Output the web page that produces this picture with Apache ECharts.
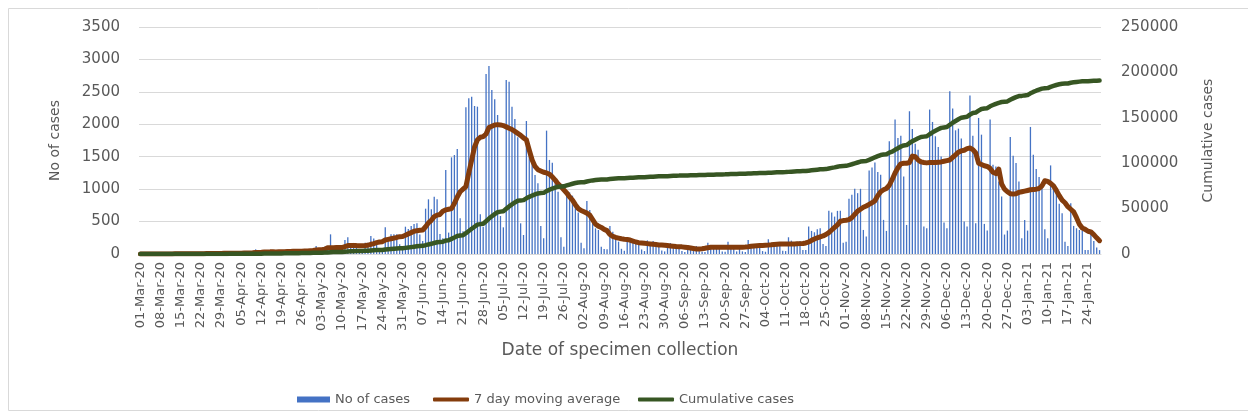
<!DOCTYPE html>
<html>
<head>
<meta charset="utf-8">
<title>Cases by date of specimen collection</title>
<script src="https://cdn.jsdelivr.net/npm/echarts@6/dist/echarts.min.js"></script>
<style>
  html, body { margin: 0; padding: 0; background: #fff; }
  #chart { width: 1248px; height: 418px; }
</style>
</head>
<body>
<div id="chart"></div>
<script>
// one row per week, Sun..Sat, first day 01-Mar-20, last day 28-Jan-21
const firstDay = [2020, 2, 1]
const dayCount = 334
const monthNames = ['Jan', 'Feb', 'Mar', 'Apr', 'May', 'Jun', 'Jul', 'Aug', 'Sep', 'Oct', 'Nov', 'Dec']

const cases = [
  0, 0, 0, 1, 0, 1, 0,
  1, 2, 1, 3, 2, 4, 0,
  1, 5, 4, 6, 7, 5, 2,
  3, 8, 9, 10, 12, 9, 4,
  6, 14, 12, 15, 18, 13, 6,
  8, 22, 25, 28, 35, 72, 12,
  10, 40, 45, 38, 52, 48, 18,
  15, 55, 60, 48, 65, 58, 20,
  22, 70, 75, 68, 85, 123, 40,
  30, 110, 120, 303, 95, 100, 45,
  40, 216, 257, 150, 160, 140, 60,
  50, 175, 175, 278, 240, 150, 80,
  70, 411, 250, 303, 303, 303, 150,
  120, 421, 385, 432, 462, 473, 300,
  200, 699, 843, 690, 884, 843, 308,
  242, 1295, 330, 1490, 1526, 1619, 550,
  350, 2262, 2400, 2426, 2282, 2272, 612,
  420, 2776, 2899, 2529, 2385, 2143, 586,
  411, 2683, 2657, 2272, 2082, 1800, 473,
  293, 2051, 1578, 1414, 1218, 1090, 432,
  242, 1902, 1450, 1408, 1090, 961, 257,
  113, 950, 950, 900, 800, 640, 175,
  87, 817, 678, 524, 395, 370, 113,
  77, 72, 432, 344, 267, 190, 80,
  50, 250, 200, 190, 180, 200, 70,
  45, 210, 180, 200, 170, 170, 55,
  40, 150, 170, 130, 120, 140, 45,
  30, 120, 110, 95, 125, 100, 35,
  30, 175, 120, 110, 130, 105, 40,
  35, 190, 120, 115, 40, 130, 40,
  30, 216, 140, 130, 120, 150, 45,
  35, 226, 160, 180, 150, 155, 50,
  45, 258, 206, 180, 190, 200, 62,
  62, 423, 356, 335, 381, 397, 155,
  124, 665, 639, 577, 665, 665, 175,
  190, 851, 912, 1005, 938, 1005, 371,
  268, 1289, 1335, 1412, 1263, 1222, 526,
  356, 1737, 1100, 2072, 1789, 1825, 1196,
  448, 2201, 1928, 1701, 1608, 1402, 423,
  397, 2227, 2036, 1815, 1650, 1505, 485,
  397, 2511, 2242, 1907, 1933, 1779, 500,
  423, 2443, 1825, 474, 2098, 1840, 464,
  361, 2072, 1376, 1351, 1119, 887, 300,
  361, 1804, 1516, 1402, 1119, 242, 526,
  361, 1959, 1531, 1309, 1186, 1108, 381,
  242, 1366, 1052, 964, 773, 629, 190,
  124, 784, 433, 397, 371, 361, 62,
  62, 320, 200, 100, 60
]

const movingAvg = [
  0, 0, 0, 0, 0, 0, 0,
  0, 1, 1, 1, 1, 2, 2,
  2, 3, 3, 4, 4, 4, 4,
  5, 5, 6, 7, 8, 8, 8,
  9, 10, 10, 11, 12, 13, 13,
  13, 14, 15, 17, 19, 25, 25,
  26, 29, 32, 33, 35, 32, 33,
  34, 36, 38, 39, 41, 42, 42,
  43, 45, 47, 50, 53, 62, 65,
  67, 75, 98, 97, 98, 99, 100,
  100, 115, 130, 130, 133, 130, 128,
  128, 130, 135, 150, 160, 175, 185,
  190, 216, 225, 235, 245, 255, 267,
  270, 290, 310, 330, 350, 360, 365,
  370, 420, 480, 520, 576, 600, 610,
  660, 680, 690, 700, 780, 880, 960,
  1000, 1040, 1250, 1450, 1650, 1760, 1800,
  1810, 1850, 1950, 1970, 1990, 1995, 1990,
  1980, 1960, 1940, 1920, 1890, 1860, 1830,
  1790, 1760, 1600, 1450, 1350, 1300, 1280,
  1260, 1250, 1230, 1190, 1140, 1080, 1040,
  990, 940, 880, 830, 760, 700, 670,
  650, 630, 600, 530, 460, 430, 410,
  380, 360, 300, 270, 255, 245, 235,
  228, 224, 215, 200, 185, 175, 170,
  165, 160, 155, 150, 145, 140, 138,
  135, 130, 125, 120, 115, 112, 110,
  105, 100, 92, 85, 78, 77, 80,
  88, 98, 103, 103, 103, 103, 103,
  103, 103, 103, 103, 103, 104, 105,
  108, 112, 118, 124, 128, 130, 132,
  135, 138, 142, 148, 152, 155, 155,
  155, 155, 156, 156, 158, 160, 162,
  170, 185, 210, 230, 250, 265, 278,
  300, 330, 370, 410, 450, 505, 515,
  520, 530, 560, 610, 660, 690, 720,
  740, 765, 790, 820, 900, 960, 990,
  1010, 1060, 1150, 1250, 1330, 1390, 1400,
  1400, 1410, 1510, 1500, 1450, 1420, 1410,
  1405, 1410, 1410, 1410, 1415, 1420, 1430,
  1440, 1450, 1490, 1530, 1570, 1590, 1600,
  1625, 1634, 1610, 1560, 1400, 1380, 1360,
  1350, 1320, 1260, 1240, 1310, 1080, 1000,
  960, 930, 925, 930, 950, 960, 970,
  980, 990, 995, 1000, 1010, 1050, 1130,
  1120, 1090, 1050, 980, 900, 830, 790,
  730, 690, 650, 560, 460, 400, 380,
  350, 340, 300, 250, 205
]

const cumulative = [
  0, 0, 0, 1, 1, 2, 2,
  3, 5, 6, 9, 11, 15, 15,
  16, 21, 25, 31, 38, 43, 45,
  48, 56, 65, 75, 87, 96, 100,
  106, 120, 132, 147, 165, 178, 184,
  192, 214, 239, 267, 302, 374, 386,
  396, 436, 481, 519, 571, 619, 637,
  652, 707, 767, 815, 880, 938, 958,
  980, 1050, 1125, 1193, 1278, 1401, 1441,
  1471, 1581, 1701, 2004, 2099, 2199, 2244,
  2284, 2500, 2757, 2907, 3067, 3207, 3267,
  3317, 3492, 3667, 3945, 4185, 4335, 4415,
  4485, 4896, 5146, 5449, 5752, 6055, 6205,
  6325, 6746, 7131, 7563, 8025, 8498, 8798,
  8998, 9697, 10540, 11230, 12114, 12957, 13265,
  13507, 14802, 15132, 16622, 18148, 19767, 20317,
  20667, 22929, 25329, 27755, 30037, 32309, 32921,
  33341, 36117, 39016, 41545, 43930, 46073, 46659,
  47070, 49753, 52410, 54682, 56764, 58564, 59037,
  59330, 61381, 62959, 64373, 65591, 66681, 67113,
  67355, 69257, 70707, 72115, 73205, 74166, 74423,
  74536, 75486, 76436, 77336, 78136, 78776, 78951,
  79038, 79855, 80533, 81057, 81452, 81822, 81935,
  82012, 82084, 82516, 82860, 83127, 83317, 83397,
  83447, 83697, 83897, 84087, 84267, 84467, 84537,
  84582, 84792, 84972, 85172, 85342, 85512, 85567,
  85607, 85757, 85927, 86057, 86177, 86317, 86362,
  86392, 86512, 86622, 86717, 86842, 86942, 86977,
  87007, 87182, 87302, 87412, 87542, 87647, 87687,
  87722, 87912, 88032, 88147, 88187, 88317, 88357,
  88387, 88603, 88743, 88873, 88993, 89143, 89188,
  89223, 89449, 89609, 89789, 89939, 90094, 90144,
  90189, 90447, 90653, 90833, 91023, 91223, 91285,
  91347, 91770, 92126, 92461, 92842, 93239, 93394,
  93518, 94183, 94822, 95399, 96064, 96729, 96904,
  97094, 97945, 98857, 99862, 100800, 101805, 102176,
  102444, 103733, 105068, 106480, 107743, 108965, 109491,
  109847, 111584, 112684, 114756, 116545, 118370, 119566,
  120014, 122215, 124143, 125844, 127452, 128854, 129277,
  129674, 131901, 133937, 135752, 137402, 138907, 139392,
  139789, 142300, 144542, 146449, 148382, 150161, 150661,
  151084, 153527, 155352, 155826, 157924, 159764, 160228,
  160589, 162661, 164037, 165388, 166507, 167394, 167694,
  168055, 169859, 171375, 172777, 173896, 174138, 174664,
  175025, 176984, 178515, 179824, 181010, 182118, 182499,
  182741, 184107, 185159, 186123, 186896, 187525, 187715,
  187839, 188623, 189056, 189453, 189824, 190185, 190247,
  190309, 190629, 190829, 190929, 190989
]

const casesTicks = [0, 500, 1000, 1500, 2000, 2500, 3000, 3500]
const cumulativeTicks = [0, 50000, 100000, 150000, 200000, 250000]

// date labels like 01-Mar-20
const dates = []
for (let i = 0; i < dayCount; i++) {
  const d = new Date(Date.UTC(firstDay[0], firstDay[1], firstDay[2] + i))
  const dd = String(d.getUTCDate()).padStart(2, '0')
  const yy = String(d.getUTCFullYear()).slice(2)
  dates.push(dd + '-' + monthNames[d.getUTCMonth()] + '-' + yy)
}

const textColor = '#595959'
const gridColor = '#d9d9d9'
const font = 'DejaVu Sans'
const plain = (v) => String(v)

const legendBase = {
  top: 388,
  itemGap: 0,
  textStyle: { color: textColor, fontSize: 13, fontFamily: font }
}

const chart = echarts.init(document.getElementById('chart'))
chart.setOption({
  animation: false,
  textStyle: { fontFamily: font, color: textColor },
  graphic: [{
    type: 'rect',
    silent: true,
    shape: { x: 8.5, y: 8.5, width: 1260, height: 402 },
    style: { fill: 'none', stroke: gridColor, lineWidth: 1 }
  }],
  grid: { left: 139, right: 147, top: 27, bottom: 164 },
  legend: [
    Object.assign({}, legendBase, { left: 292, itemWidth: 33, itemHeight: 6, icon: 'rect', data: ['No of cases'] }),
    Object.assign({}, legendBase, { left: 428, itemWidth: 36, itemHeight: 4, icon: 'roundRect', data: ['7 day moving average'] }),
    Object.assign({}, legendBase, { left: 633, itemWidth: 36, itemHeight: 4, icon: 'roundRect', data: ['Cumulative cases'] })
  ],
  xAxis: {
    type: 'category',
    data: dates,
    name: 'Date of specimen collection',
    nameLocation: 'middle',
    nameGap: 88,
    nameTextStyle: { fontSize: 17, color: textColor, fontFamily: font },
    axisLine: { lineStyle: { color: gridColor, width: 1 } },
    axisTick: { interval: 6, length: 5, lineStyle: { color: gridColor } },
    axisLabel: { interval: 6, rotate: 90, margin: 8, fontSize: 13, color: textColor, fontFamily: font }
  },
  yAxis: [
    {
      type: 'value',
      min: casesTicks[0],
      max: casesTicks[casesTicks.length - 1],
      interval: casesTicks[1] - casesTicks[0],
      name: 'No of cases',
      nameLocation: 'middle',
      nameRotate: 90,
      nameGap: 77,
      nameTextStyle: { fontSize: 14, color: textColor, fontFamily: font },
      axisLine: { show: false },
      axisTick: { show: false },
      axisLabel: { margin: 19, fontSize: 15, color: textColor, fontFamily: font, formatter: plain },
      splitLine: { lineStyle: { color: gridColor, width: 1 } }
    },
    {
      type: 'value',
      position: 'right',
      min: cumulativeTicks[0],
      max: cumulativeTicks[cumulativeTicks.length - 1],
      interval: cumulativeTicks[1] - cumulativeTicks[0],
      name: 'Cumulative cases',
      nameLocation: 'middle',
      nameRotate: 90,
      nameGap: 100,
      nameTextStyle: { fontSize: 14, color: textColor, fontFamily: font },
      axisLine: { show: false },
      axisTick: { show: false },
      axisLabel: { margin: 20, fontSize: 15, color: textColor, fontFamily: font, formatter: plain },
      splitLine: { show: false }
    }
  ],
  series: [
    {
      name: 'No of cases',
      type: 'bar',
      data: cases,
      barWidth: 1.3,
      itemStyle: { color: '#4472C4' }
    },
    {
      name: '7 day moving average',
      type: 'line',
      data: movingAvg,
      symbol: 'none',
      itemStyle: { color: '#843C0C' },
      lineStyle: { color: '#843C0C', width: 5, cap: 'round', join: 'round' }
    },
    {
      name: 'Cumulative cases',
      type: 'line',
      yAxisIndex: 1,
      data: cumulative,
      symbol: 'none',
      itemStyle: { color: '#375623' },
      lineStyle: { color: '#375623', width: 4.5, cap: 'round', join: 'round' }
    }
  ]
})
</script>
</body>
</html>
